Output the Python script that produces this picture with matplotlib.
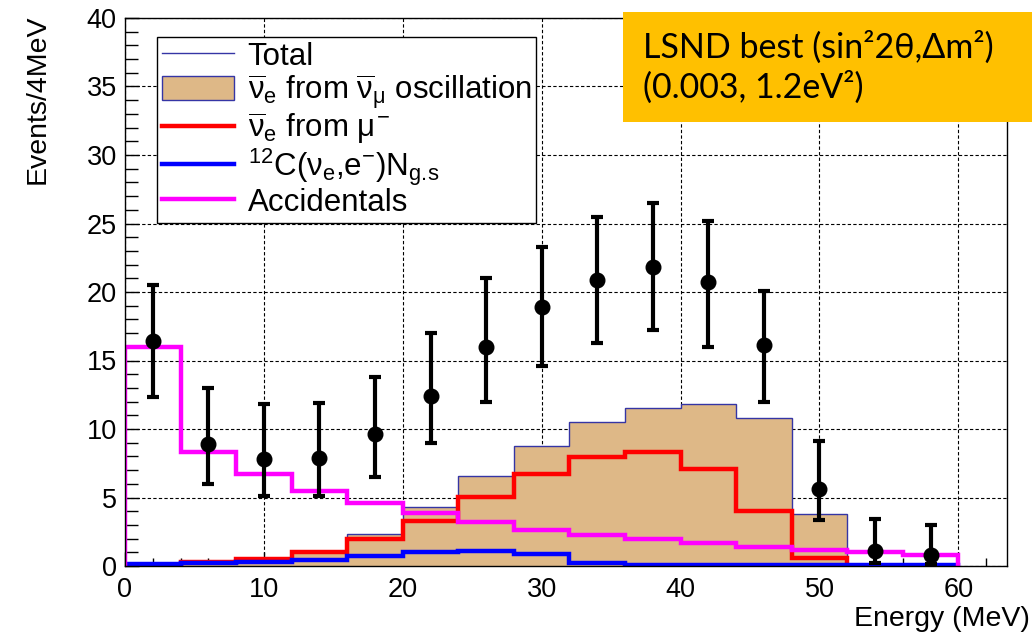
import numpy as np
import matplotlib
matplotlib.use("Agg")
import matplotlib.pyplot as plt
from matplotlib.lines import Line2D
from matplotlib.patches import Patch, Rectangle
from matplotlib.ticker import MultipleLocator

plt.rcParams['font.family'] = ['Liberation Sans', 'DejaVu Sans']
plt.rcParams['mathtext.fontset'] = 'custom'
plt.rcParams['mathtext.rm'] = 'Liberation Sans'
plt.rcParams['mathtext.it'] = 'Liberation Sans'
plt.rcParams['mathtext.bf'] = 'Liberation Sans:bold'

# ---- data ----
bin_edges = [0, 4, 8, 12, 16, 20, 24, 28, 32, 36, 40, 44, 48, 52, 56, 60]
total = [0.1, 0.25, 0.5, 1.1, 2.3, 4.3, 6.6, 8.75, 10.5, 11.55, 11.8, 10.8, 3.77, 0.0, 0.0]
nue_from_mu = [0.03, 0.27, 0.5, 1.0, 1.97, 3.3, 5.05, 6.7, 7.95, 8.35, 7.1, 4.0, 0.6]
c12 = [0.15, 0.2, 0.3, 0.44, 0.73, 1.0, 1.1, 0.87, 0.2, 0.07, 0.07, 0.07, 0.07, 0.07, 0.07]
accidentals = [16.0, 8.3, 6.7, 5.5, 4.6, 3.9, 3.2, 2.6, 2.25, 2.0, 1.7, 1.4, 1.2, 1.0, 0.8]

data_x = [2, 6, 10, 14, 18, 22, 26, 30, 34, 38, 42, 46, 50, 54, 58]
data_y = [16.4, 8.9, 7.8, 7.9, 9.6, 12.4, 16.0, 18.9, 20.9, 21.8, 20.7, 16.1, 5.6, 1.1, 0.8]
data_hi = [20.5, 13.0, 11.8, 11.9, 13.8, 17.0, 21.0, 23.3, 25.5, 26.5, 25.2, 20.1, 9.1, 3.4, 3.0]
data_lo = [12.3, 6.0, 5.1, 5.1, 6.5, 9.0, 12.0, 14.6, 16.3, 17.2, 16.0, 12.0, 3.35, 0.2, 0.15]

legend_labels = ['Total',
                 r'$\overline{\nu}_{e}$ from $\overline{\nu}_{\mu}$ oscillation',
                 r'$\overline{\nu}_{e}$ from $\mu^{-}$',
                 r'$^{12}$C($\nu_{e}$,e$^{-}$)N$_{g.\!s}$',
                 'Accidentals']

TAN = '#DEB887'
NAVY = '#3535A5'

fig = plt.figure(figsize=(10.32, 6.35), dpi=100)
ax = fig.add_axes([125 / 1032, 1 - 566 / 635, 882 / 1032, 548 / 635])

edges = np.array(bin_edges, dtype=float)
ax.stairs(total, edges, fill=True, color=TAN, zorder=2)
ax.stairs(total, edges, color=NAVY, lw=1.0, zorder=3)
ax.stairs(nue_from_mu, edges[:len(nue_from_mu) + 1], color='#FF0000', lw=3.2, zorder=4)
ax.stairs(c12, edges, color='#0000FF', lw=3.2, zorder=5)
ax.stairs(accidentals, edges, color='#FF00FF', lw=3.2, zorder=6)

dy = np.array(data_y)
yerr = [dy - np.array(data_lo), np.array(data_hi) - dy]
ax.errorbar(data_x, data_y, yerr=yerr, fmt='o', color='black', ms=10.5,
            elinewidth=3.0, capsize=4, capthick=3.0, zorder=7)

ax.set_xlim(0, 63.5)
ax.set_ylim(0, 40)
ax.xaxis.set_major_locator(MultipleLocator(10))
ax.xaxis.set_minor_locator(MultipleLocator(2))
ax.yaxis.set_major_locator(MultipleLocator(5))
ax.yaxis.set_minor_locator(MultipleLocator(1))
ax.tick_params(which='both', direction='in', top=False, right=False, labelsize=19.5, width=1.0)
ax.tick_params(axis='y', which='major', length=10, pad=6)
ax.tick_params(axis='y', which='minor', length=9)
ax.tick_params(axis='x', which='major', length=10, pad=8)
ax.tick_params(axis='x', which='minor', length=6)
ax.grid(True, which='major', color='black', linestyle=(0, (3, 2)), lw=0.8, zorder=1)
ax.set_axisbelow(True)
for s in ax.spines.values():
    s.set_linewidth(1.0)
    s.set_zorder(8)

handles = [Line2D([], [], color=NAVY, lw=1.0),
           Patch(facecolor=TAN, edgecolor=NAVY, lw=1.0),
           Line2D([], [], color='#FF0000', lw=3.2),
           Line2D([], [], color='#0000FF', lw=3.2),
           Line2D([], [], color='#FF00FF', lw=3.2)]
leg = ax.legend(handles, legend_labels, loc='upper left',
                bbox_to_anchor=((157 - 125) / 882, (566 - 37) / 548),
                fontsize=22.5, frameon=True, fancybox=False, framealpha=1,
                edgecolor='black', borderaxespad=0, handlelength=2.3,
                handleheight=0.8, handletextpad=0.45, labelspacing=0.0,
                borderpad=0.15)
leg.get_frame().set_linewidth(1.0)
leg.set_zorder(9)

fig.text(1030 / 1032, 3 / 635, 'Energy (MeV)', ha='right', va='bottom', fontsize=20.5)
fig.text(38 / 1032, 1 - 14 / 635, 'Events/4MeV', rotation=90, ha='center', va='top', fontsize=20.5)

box = Rectangle((623 / 1032, 1 - 122 / 635), (1032 - 623) / 1032, 110 / 635,
                transform=fig.transFigure, facecolor='#FFC000', edgecolor='none', zorder=10)
fig.add_artist(box)
fig.text(643 / 1032, 1 - 58 / 635, 'LSND best (sin²2θ,Δm²)', ha='left', va='baseline',
         fontsize=24.5, family=['Lato', 'Open Sans', 'DejaVu Sans'], zorder=11)
fig.text(643 / 1032, 1 - 98 / 635, '(0.003, 1.2eV²)', ha='left', va='baseline',
         fontsize=24.5, family=['Lato', 'Open Sans', 'DejaVu Sans'], zorder=11)

fig.savefig('out.png', dpi=100)
